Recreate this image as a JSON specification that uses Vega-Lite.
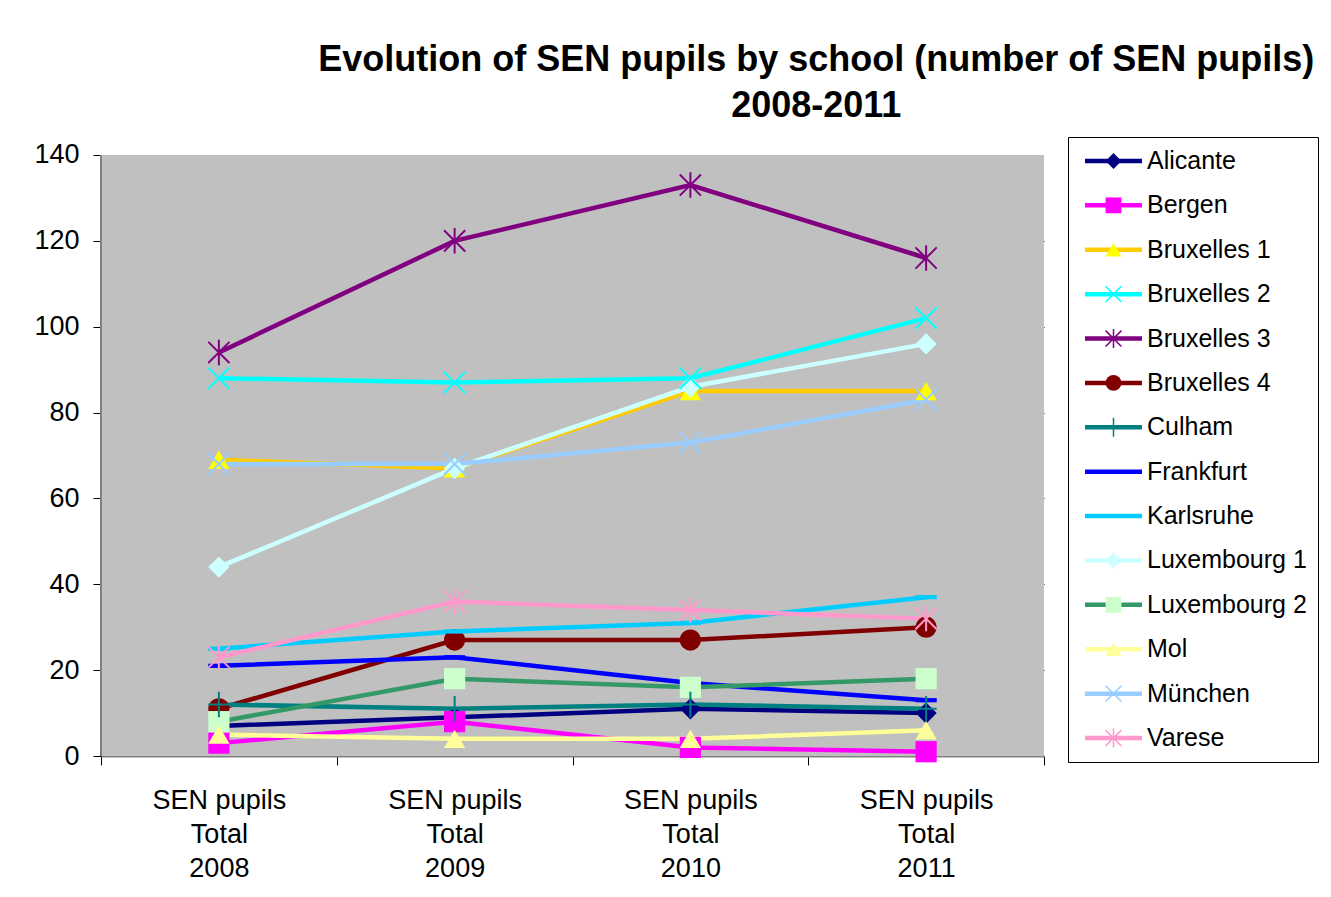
{
  "$schema": "https://vega.github.io/schema/vega-lite/v6.json",
  "background": "white",
  "padding": {"left": 33, "top": 41, "right": 5, "bottom": 5},
  "config": {"font": "Liberation Sans"},
  "title": {
    "text": ["Evolution of SEN pupils by school (number of SEN pupils)", "2008-2011"],
    "fontSize": 36, "font": "Liberation Sans", "fontWeight": "bold", "color": "black",
    "anchor": "middle", "dx": 140, "lineHeight": 46, "offset": 12
  },
  "data": {
    "values": [
      {"school": "Alicante", "period": "SEN pupils Total 2008", "value": 7},
      {"school": "Alicante", "period": "SEN pupils Total 2009", "value": 9},
      {"school": "Alicante", "period": "SEN pupils Total 2010", "value": 11},
      {"school": "Alicante", "period": "SEN pupils Total 2011", "value": 10},
      {"school": "Bergen", "period": "SEN pupils Total 2008", "value": 3},
      {"school": "Bergen", "period": "SEN pupils Total 2009", "value": 8},
      {"school": "Bergen", "period": "SEN pupils Total 2010", "value": 2},
      {"school": "Bergen", "period": "SEN pupils Total 2011", "value": 1},
      {"school": "Bruxelles 1", "period": "SEN pupils Total 2008", "value": 69},
      {"school": "Bruxelles 1", "period": "SEN pupils Total 2009", "value": 67},
      {"school": "Bruxelles 1", "period": "SEN pupils Total 2010", "value": 85},
      {"school": "Bruxelles 1", "period": "SEN pupils Total 2011", "value": 85},
      {"school": "Bruxelles 2", "period": "SEN pupils Total 2008", "value": 88},
      {"school": "Bruxelles 2", "period": "SEN pupils Total 2009", "value": 87},
      {"school": "Bruxelles 2", "period": "SEN pupils Total 2010", "value": 88},
      {"school": "Bruxelles 2", "period": "SEN pupils Total 2011", "value": 102},
      {"school": "Bruxelles 3", "period": "SEN pupils Total 2008", "value": 94},
      {"school": "Bruxelles 3", "period": "SEN pupils Total 2009", "value": 120},
      {"school": "Bruxelles 3", "period": "SEN pupils Total 2010", "value": 133},
      {"school": "Bruxelles 3", "period": "SEN pupils Total 2011", "value": 116},
      {"school": "Bruxelles 4", "period": "SEN pupils Total 2008", "value": 11},
      {"school": "Bruxelles 4", "period": "SEN pupils Total 2009", "value": 27},
      {"school": "Bruxelles 4", "period": "SEN pupils Total 2010", "value": 27},
      {"school": "Bruxelles 4", "period": "SEN pupils Total 2011", "value": 30},
      {"school": "Culham", "period": "SEN pupils Total 2008", "value": 12},
      {"school": "Culham", "period": "SEN pupils Total 2009", "value": 11},
      {"school": "Culham", "period": "SEN pupils Total 2010", "value": 12},
      {"school": "Culham", "period": "SEN pupils Total 2011", "value": 11},
      {"school": "Frankfurt", "period": "SEN pupils Total 2008", "value": 21},
      {"school": "Frankfurt", "period": "SEN pupils Total 2009", "value": 23},
      {"school": "Frankfurt", "period": "SEN pupils Total 2010", "value": 17},
      {"school": "Frankfurt", "period": "SEN pupils Total 2011", "value": 13},
      {"school": "Karlsruhe", "period": "SEN pupils Total 2008", "value": 25},
      {"school": "Karlsruhe", "period": "SEN pupils Total 2009", "value": 29},
      {"school": "Karlsruhe", "period": "SEN pupils Total 2010", "value": 31},
      {"school": "Karlsruhe", "period": "SEN pupils Total 2011", "value": 37},
      {"school": "Luxembourg 1", "period": "SEN pupils Total 2008", "value": 44},
      {"school": "Luxembourg 1", "period": "SEN pupils Total 2009", "value": 67},
      {"school": "Luxembourg 1", "period": "SEN pupils Total 2010", "value": 86},
      {"school": "Luxembourg 1", "period": "SEN pupils Total 2011", "value": 96},
      {"school": "Luxembourg 2", "period": "SEN pupils Total 2008", "value": 8},
      {"school": "Luxembourg 2", "period": "SEN pupils Total 2009", "value": 18},
      {"school": "Luxembourg 2", "period": "SEN pupils Total 2010", "value": 16},
      {"school": "Luxembourg 2", "period": "SEN pupils Total 2011", "value": 18},
      {"school": "Mol", "period": "SEN pupils Total 2008", "value": 5},
      {"school": "Mol", "period": "SEN pupils Total 2009", "value": 4},
      {"school": "Mol", "period": "SEN pupils Total 2010", "value": 4},
      {"school": "Mol", "period": "SEN pupils Total 2011", "value": 6},
      {"school": "München", "period": "SEN pupils Total 2008", "value": 68},
      {"school": "München", "period": "SEN pupils Total 2009", "value": 68},
      {"school": "München", "period": "SEN pupils Total 2010", "value": 73},
      {"school": "München", "period": "SEN pupils Total 2011", "value": 83},
      {"school": "Varese", "period": "SEN pupils Total 2008", "value": 23},
      {"school": "Varese", "period": "SEN pupils Total 2009", "value": 36},
      {"school": "Varese", "period": "SEN pupils Total 2010", "value": 34},
      {"school": "Varese", "period": "SEN pupils Total 2011", "value": 32}
    ]
  },
  "hconcat": [
    {
      "width": 943,
      "height": 619,
      "view": {"fill": null, "stroke": null},
      "encoding": {
        "x": {
          "field": "period", "type": "nominal", "sort": null,
          "scale": {"type": "band", "paddingInner": 0, "paddingOuter": 0},
          "axis": {
            "title": null, "tickBand": "extent", "tickSize": 9, "labelAngle": 0,
            "labelFontSize": 27, "labelLineHeight": 34, "labelPadding": 22, "labelColor": "black",
            "labelFont": "Liberation Sans", "labelBaseline": "top",
            "labelExpr": "datum.label ? ['SEN pupils', 'Total', slice(datum.label, -4)] : ''",
            "domainColor": "#808080", "domainWidth": 2, "tickColor": "black", "grid": false
          }
        }
      },
      "layer": [
        {
          "transform": [{"aggregate": [{"op": "count", "as": "n"}]}],
          "mark": {"type": "rect", "color": "#C0C0C0"},
          "encoding": {
            "x": {"value": 0},
            "x2": {"value": "width"},
            "y": {
              "datum": 140, "type": "quantitative", "title": null,
              "scale": {"domain": [0, 144.19], "nice": false},
              "axis": {
                "title": null, "values": [0, 20, 40, 60, 80, 100, 120, 140],
                "tickSize": 8, "labelPadding": 14, "labelFontSize": 27, "labelColor": "black",
                "labelFont": "Liberation Sans", "domain": false, "tickColor": "black",
                "grid": true, "gridWidth": 1,
                "gridColor": {"condition": {"test": "datum.value === 0 || datum.value === 140", "value": "transparent"}, "value": "black"}
              }
            },
            "y2": {"value": "height"}
          }
        },
        {
          "transform": [{"aggregate": [{"op": "count", "as": "n"}]}],
          "mark": {"type": "rule", "color": "#808080", "strokeWidth": 2},
          "encoding": {
            "x": {"value": 0},
            "y": {
              "datum": 140, "type": "quantitative", "title": null,
              "scale": {"domain": [0, 144.19], "nice": false},
              "axis": {
                "title": null, "values": [0, 20, 40, 60, 80, 100, 120, 140],
                "tickSize": 8, "labelPadding": 14, "labelFontSize": 27, "labelColor": "black",
                "labelFont": "Liberation Sans", "domain": false, "tickColor": "black",
                "grid": true, "gridWidth": 1,
                "gridColor": {"condition": {"test": "datum.value === 0 || datum.value === 140", "value": "transparent"}, "value": "black"}
              }
            },
            "y2": {"value": "height"}
          }
        },
        {
          "mark": {"type": "line", "strokeWidth": 4.5},
          "encoding": {
            "y": {
              "field": "value", "type": "quantitative", "title": null,
              "scale": {"domain": [0, 144.19], "nice": false},
              "axis": {
                "title": null, "values": [0, 20, 40, 60, 80, 100, 120, 140],
                "tickSize": 8, "labelPadding": 14, "labelFontSize": 27, "labelColor": "black",
                "labelFont": "Liberation Sans", "domain": false, "tickColor": "black",
                "grid": true, "gridWidth": 1,
                "gridColor": {"condition": {"test": "datum.value === 0 || datum.value === 140", "value": "transparent"}, "value": "black"}
              }
            },
            "stroke": {
              "field": "school", "type": "nominal", "legend": null,
              "scale": {
                "domain": ["Alicante", "Bergen", "Bruxelles 1", "Bruxelles 2", "Bruxelles 3", "Bruxelles 4", "Culham", "Frankfurt", "Karlsruhe", "Luxembourg 1", "Luxembourg 2", "Mol", "München", "Varese"],
                "range": ["#000080", "#FF00FF", "#FFCC00", "#00FFFF", "#800080", "#800000", "#008080", "#0000FF", "#00CCFF", "#CCFFFF", "#339966", "#FFFF99", "#99CCFF", "#FF99CC"]
              }
            }
          }
        },
        {
          "transform": [{"filter": {"field": "school", "oneOf": ["Alicante", "Bergen", "Bruxelles 1", "Bruxelles 4", "Frankfurt", "Karlsruhe", "Luxembourg 1", "Luxembourg 2", "Mol"]}}],
          "mark": {"type": "point", "filled": true, "size": 450, "opacity": 1, "strokeWidth": 0},
          "encoding": {
            "y": {
              "field": "value", "type": "quantitative", "title": null,
              "scale": {"domain": [0, 144.19], "nice": false},
              "axis": {
                "title": null, "values": [0, 20, 40, 60, 80, 100, 120, 140],
                "tickSize": 8, "labelPadding": 14, "labelFontSize": 27, "labelColor": "black",
                "labelFont": "Liberation Sans", "domain": false, "tickColor": "black",
                "grid": true, "gridWidth": 1,
                "gridColor": {"condition": {"test": "datum.value === 0 || datum.value === 140", "value": "transparent"}, "value": "black"}
              }
            },
            "fill": {
              "field": "school", "type": "nominal", "legend": null,
              "scale": {
                "domain": ["Alicante", "Bergen", "Bruxelles 1", "Bruxelles 4", "Frankfurt", "Karlsruhe", "Luxembourg 1", "Luxembourg 2", "Mol"],
                "range": ["#000080", "#FF00FF", "#FFFF00", "#800000", "#0000FF", "#00CCFF", "#CCFFFF", "#CCFFCC", "#FFFF99"]
              }
            },
            "shape": {
              "field": "school", "type": "nominal", "legend": null,
              "scale": {
                "domain": ["Alicante", "Bergen", "Bruxelles 1", "Bruxelles 2", "Bruxelles 3", "Bruxelles 4", "Culham", "Frankfurt", "Karlsruhe", "Luxembourg 1", "Luxembourg 2", "Mol", "München", "Varese"],
                "range": ["diamond", "square", "triangle-up", "M-1,-1L1,1M-1,1L1,-1", "M-1,-1L1,1M-1,1L1,-1M0,-1.2V1.2", "circle", "M0,-1.2V1.2M-1,0H1", "M-1,-0.2H1V0.2H-1Z", "M-1,-0.2H1V0.2H-1Z", "diamond", "square", "triangle-up", "M-1,-1L1,1M-1,1L1,-1", "M-1,-1L1,1M-1,1L1,-1M0,-1.2V1.2"]
              }
            }
          }
        },
        {
          "transform": [{"filter": {"field": "school", "oneOf": ["Bruxelles 2", "Bruxelles 3", "Culham", "München", "Varese"]}}],
          "mark": {"type": "point", "filled": false, "size": 450, "opacity": 1, "strokeWidth": 2},
          "encoding": {
            "y": {
              "field": "value", "type": "quantitative", "title": null,
              "scale": {"domain": [0, 144.19], "nice": false},
              "axis": {
                "title": null, "values": [0, 20, 40, 60, 80, 100, 120, 140],
                "tickSize": 8, "labelPadding": 14, "labelFontSize": 27, "labelColor": "black",
                "labelFont": "Liberation Sans", "domain": false, "tickColor": "black",
                "grid": true, "gridWidth": 1,
                "gridColor": {"condition": {"test": "datum.value === 0 || datum.value === 140", "value": "transparent"}, "value": "black"}
              }
            },
            "stroke": {"field": "school", "type": "nominal", "legend": null},
            "shape": {"field": "school", "type": "nominal", "legend": null}
          }
        }
      ]
    },
    {
      "width": 250,
      "height": 625,
      "view": {"fill": "white", "stroke": "black", "strokeWidth": 1},
      "transform": [{"filter": "datum.period === 'SEN pupils Total 2008'"}],
      "encoding": {
        "y": {
          "field": "school", "type": "nominal",
          "sort": ["Alicante", "Bergen", "Bruxelles 1", "Bruxelles 2", "Bruxelles 3", "Bruxelles 4", "Culham", "Frankfurt", "Karlsruhe", "Luxembourg 1", "Luxembourg 2", "Mol", "München", "Varese"],
          "scale": {"type": "point", "padding": 0.54},
          "axis": null
        }
      },
      "layer": [
        {
          "mark": {"type": "rule", "strokeWidth": 4.5},
          "encoding": {
            "x": {"datum": 0.68, "type": "quantitative", "scale": {"domain": [0, 10]}, "axis": null},
            "x2": {"datum": 2.96},
            "stroke": {"field": "school", "type": "nominal", "legend": null}
          }
        },
        {
          "transform": [{"filter": {"field": "school", "oneOf": ["Alicante", "Bergen", "Bruxelles 1", "Bruxelles 4", "Frankfurt", "Karlsruhe", "Luxembourg 1", "Luxembourg 2", "Mol"]}}],
          "mark": {"type": "point", "filled": true, "size": 250, "opacity": 1, "strokeWidth": 0},
          "encoding": {
            "x": {"datum": 1.82, "type": "quantitative", "axis": null},
            "fill": {"field": "school", "type": "nominal", "legend": null},
            "shape": {"field": "school", "type": "nominal", "legend": null}
          }
        },
        {
          "transform": [{"filter": {"field": "school", "oneOf": ["Bruxelles 2", "Bruxelles 3", "Culham", "München", "Varese"]}}],
          "mark": {"type": "point", "filled": false, "size": 250, "opacity": 1, "strokeWidth": 1.5},
          "encoding": {
            "x": {"datum": 1.82, "type": "quantitative", "axis": null},
            "stroke": {"field": "school", "type": "nominal", "legend": null},
            "shape": {"field": "school", "type": "nominal", "legend": null}
          }
        },
        {
          "mark": {"type": "text", "align": "left", "baseline": "middle", "fontSize": 25, "font": "Liberation Sans", "color": "black"},
          "encoding": {
            "x": {"datum": 3.16, "type": "quantitative", "axis": null},
            "text": {"field": "school", "type": "nominal"}
          }
        }
      ]
    }
  ],
  "spacing": 22
}
